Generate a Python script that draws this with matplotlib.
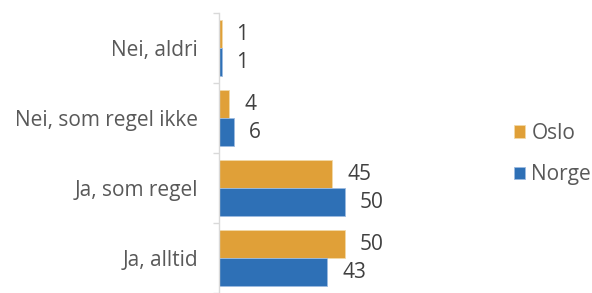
import matplotlib
matplotlib.use("Agg")
import matplotlib.pyplot as plt
import numpy as np

categories = ["Nei, aldri", "Nei, som regel ikke", "Ja, som regel", "Ja, alltid"]
oslo = [1, 4, 45, 50]
norge = [1, 6, 50, 43]
series_names = ["Oslo", "Norge"]

plt.rcParams['font.family'] = ['Open Sans', 'DejaVu Sans']

W, H = 592, 293
FS = 15
fig = plt.figure(figsize=(W/100, H/100), dpi=100)
ax = fig.add_axes([219/W, 0/H, (470-219)/W, 280/H])

y = np.arange(len(categories))
h = 0.4
c_oslo = "#E0A038"
c_norge = "#2E70B6"
b1 = ax.barh(y - 0.2, oslo, height=h, color=c_oslo, edgecolor="#F2D9A8", linewidth=0.6, label=series_names[0])
b2 = ax.barh(y + 0.2, norge, height=h, color=c_norge, edgecolor="#9DBBE0", linewidth=0.6, label=series_names[1])

txtc = "#404040"
for bars, vals in ((b1, oslo), (b2, norge)):
    for r, v in zip(bars, vals):
        ax.annotate(str(v), (r.get_width(), r.get_y() + r.get_height()/2),
                    xytext=(15, 0), textcoords="offset pixels",
                    ha="left", va="center", fontsize=FS, color=txtc)

ax.set_xlim(0, (470-219)/2.52)
ax.set_ylim(3.5, -0.5)
ax.set_yticks(y)
ax.set_yticklabels(categories, fontsize=FS, color="#595959")
ax.set_yticks(np.arange(-0.5, 4.0, 1.0), minor=True)
ax.tick_params(axis='y', which='major', length=0, pad=15)
ax.tick_params(axis='y', which='minor', length=4, color="#D9D9D9", width=1)
ax.set_xticks([])
for s in ("top", "right", "bottom"):
    ax.spines[s].set_visible(False)
ax.spines["left"].set_color("#D9D9D9")
ax.spines["left"].set_linewidth(1)

leg = fig.legend(handles=[b1, b2], labels=series_names, loc="upper left",
                 bbox_to_anchor=(514/W, 1 - 123/H), frameon=False,
                 fontsize=FS, handlelength=0.53, handleheight=0.55,
                 handletextpad=0.3, labelspacing=0.98, borderpad=0, borderaxespad=0)
for t in leg.get_texts():
    t.set_color("#595959")

fig.savefig("out.png", dpi=100)
